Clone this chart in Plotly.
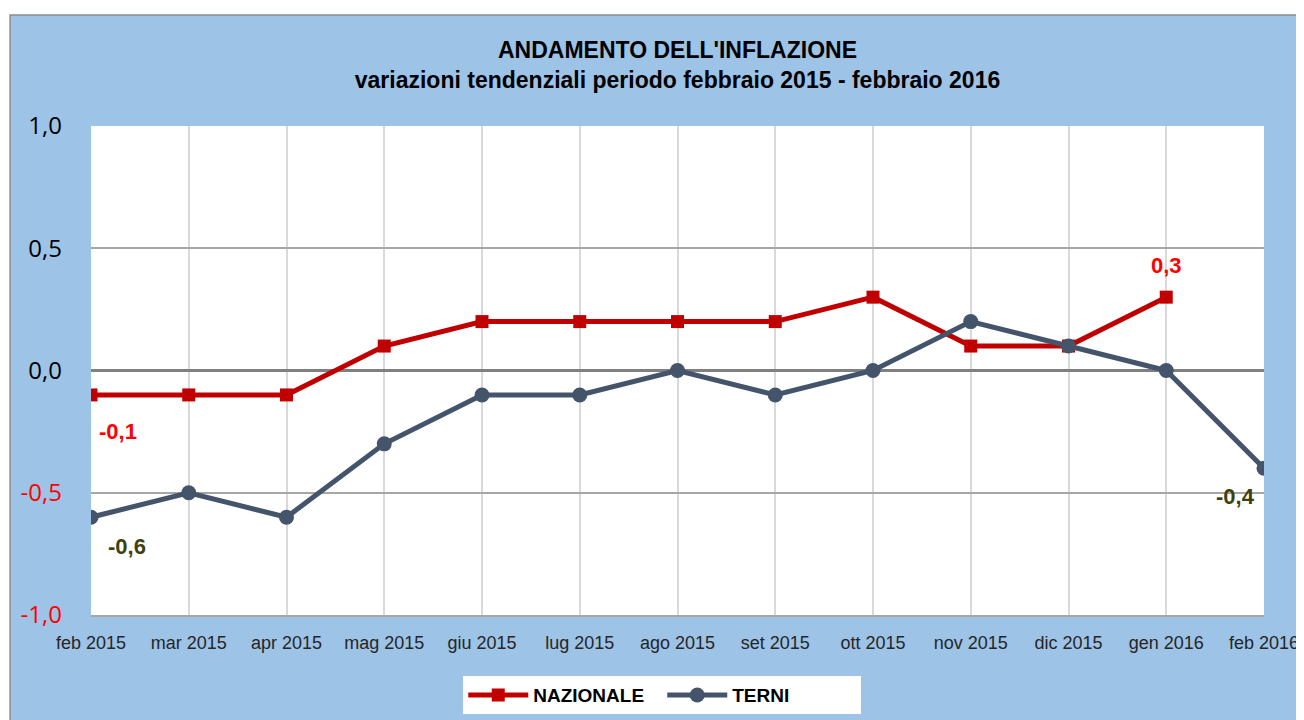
import plotly.graph_objects as go

# Data
mesi = ['feb 2015', 'mar 2015', 'apr 2015', 'mag 2015', 'giu 2015', 'lug 2015', 'ago 2015',
        'set 2015', 'ott 2015', 'nov 2015', 'dic 2015', 'gen 2016', 'feb 2016']
nazionale = [-0.1, -0.1, -0.1, 0.1, 0.2, 0.2, 0.2, 0.2, 0.3, 0.1, 0.1, 0.3, None]
terni = [-0.6, -0.5, -0.6, -0.3, -0.1, -0.1, 0.0, -0.1, 0.0, 0.2, 0.1, 0.0, -0.4]
y_ticks = [-1.0, -0.5, 0.0, 0.5, 1.0]
y_labels = ['-1,0', '-0,5', '0,0', '0,5', '1,0']

RED = '#C00000'
LABEL_RED = '#FF0000'
SLATE = '#44546A'
OLIVE = '#3F3F10'
BLUE_BG = '#9DC3E6'
FONT = 'Liberation Sans'

x_idx = list(range(len(mesi)))

fig = go.Figure()
fig.add_trace(go.Scatter(x=x_idx, y=nazionale, name='NAZIONALE', mode='lines+markers',
                         line=dict(color=RED, width=5),
                         marker=dict(symbol='square', size=13, color=RED)))
fig.add_trace(go.Scatter(x=x_idx, y=terni, name='TERNI', mode='lines+markers',
                         line=dict(color=SLATE, width=5),
                         marker=dict(symbol='circle', size=15, color=SLATE)))

# data labels on first / last points
def fmt(v):
    return f'{v:.1f}'.replace('.', ',')

labels = [
    (0, nazionale[0], LABEL_RED, 27, -37),
    (11, nazionale[11], LABEL_RED, 0, 32),
    (0, terni[0], OLIVE, 36, -29),
    (12, terni[12], OLIVE, -29, -28),
]
for xi, v, col, dx, dy in labels:
    fig.add_annotation(x=xi, y=v, xref='x', yref='y', text=fmt(v), showarrow=False,
                       xshift=dx, yshift=dy,
                       font=dict(family=FONT, size=22, color=col, weight='bold'))

# blue frame behind the chart, white plot area on top of it
fig.add_shape(type='rect', xref='paper', yref='paper', x0=-0.069, x1=1.1, y0=-0.3, y1=1.227,
              fillcolor=BLUE_BG, line=dict(color='#8C8C8C', width=1.5), layer='below')
fig.add_shape(type='rect', xref='paper', yref='paper', x0=0, x1=1, y0=0, y1=1,
              fillcolor='white', line=dict(width=0), layer='below')

fig.update_layout(
    width=1296, height=720,
    margin=dict(l=83, r=40, t=118, b=113),
    paper_bgcolor='white', plot_bgcolor='white',
    title=dict(text="ANDAMENTO DELL'INFLAZIONE<br>variazioni tendenziali periodo febbraio 2015 - febbraio 2016",
               x=0.5, xref='paper', xanchor='center', y=0.930, yanchor='middle',
               font=dict(family=FONT, size=23, color='black', weight='bold')),
    showlegend=True,
    legend=dict(orientation='h', x=0.487, xanchor='center', y=-0.125, yanchor='top',
                bgcolor='white', borderwidth=0,
                font=dict(family=FONT, size=19, color='black', weight='bold'),
                itemwidth=60, entrywidth=124),
    xaxis=dict(tickmode='array', tickvals=x_idx, ticktext=mesi, range=[0, 12],
               showgrid=True, gridcolor='#D9D9D9', gridwidth=1.5, zeroline=False,
               showline=True, linecolor='#A6A6A6', linewidth=2, automargin=False,
               ticks='', ticklabelstandoff=10,
               tickfont=dict(family=FONT, size=18, color='#262626')),
    yaxis=dict(tickmode='array', tickvals=y_ticks, ticktext=y_labels, range=[-1, 1],
               showgrid=True, gridcolor='#A6A6A6', gridwidth=1.5,
               zeroline=True, zerolinecolor='#808080', zerolinewidth=2.5,
               ticks='', ticklabelstandoff=28, automargin=False,
               tickfont=dict(family='Open Sans', size=24, color='black')),
)

# red labels for negative y ticks
fig.update_yaxes(ticktext=['<span style="color:#FF0000">-1,0</span>',
                           '<span style="color:#FF0000">-0,5</span>',
                           '0,0', '0,5', '1,0'])

fig.write_html('out.html')
